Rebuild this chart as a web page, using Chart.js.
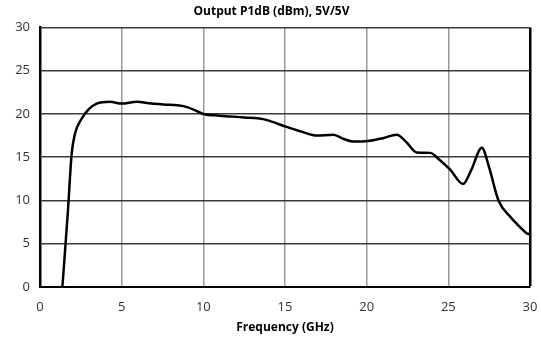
<!DOCTYPE html>
<html>
<head>
<meta charset="utf-8">
<script src="https://cdn.jsdelivr.net/npm/chart.js@4.4.1/dist/chart.umd.min.js"></script>
<style>
  html, body { margin: 0; padding: 0; background: #fff; }
  #wrap { width: 541px; height: 339px; }
</style>
</head>
<body>
<div id="wrap"><canvas id="p1dbChart" width="541" height="339"></canvas></div>
<script>
// frequency (GHz) and output P1dB (dBm)
const freqGHz = [1.37, 1.7, 1.94, 2.14, 2.5, 2.96, 3.47, 4.29, 5.0, 5.92, 6.8, 7.55, 8.78, 9.4, 10.0, 11.0, 12.5, 13.67, 15.1, 16.1, 16.94, 17.96, 18.6, 19.19, 20.2, 21.0, 21.84, 22.4, 23.06, 23.9, 24.4, 25.1, 25.9, 26.4, 27.05, 27.5, 28.07, 28.8, 29.4, 29.8, 30.0];
const p1dbOut = [0, 8.5, 15.4, 17.7, 19.3, 20.5, 21.2, 21.4, 21.2, 21.4, 21.2, 21.1, 20.9, 20.5, 20.0, 19.8, 19.6, 19.4, 18.5, 17.9, 17.5, 17.6, 17.1, 16.8, 16.9, 17.2, 17.6, 16.8, 15.55, 15.5, 14.8, 13.6, 11.9, 13.5, 16.1, 13.8, 10.0, 8.1, 6.9, 6.2, 6.1];
const axisTicks = [0, 5, 10, 15, 20, 25, 30];

const points = freqGHz.map((f, i) => ({ x: f, y: p1dbOut[i] }));
const tickFont = { family: 'Open Sans', size: 13 };
const boldFont = { family: 'Open Sans', size: 12, weight: 'bold' };

new Chart(document.getElementById('p1dbChart'), {
    type: 'scatter',
    data: {
        datasets: [{
            label: 'P1dB',
            data: points,
            showLine: true,
            borderColor: '#000',
            borderWidth: 2.5,
            pointRadius: 0,
            tension: 0.4,
            cubicInterpolationMode: 'monotone'
        }]
    },
    options: {
        responsive: false,
        animation: false,
        layout: { padding: { top: 4, right: 0, bottom: 4, left: 2 } },
        plugins: {
            legend: { display: false },
            tooltip: { enabled: false },
            title: {
                display: true,
                text: 'Output P1dB (dBm), 5V/5V',
                color: '#000',
                font: boldFont,
                padding: { top: 0, bottom: 9 }
            }
        },
        scales: {
            x: {
                type: 'linear',
                min: 0,
                max: 30,
                afterBuildTicks: (scale) => { scale.ticks = axisTicks.map(v => ({ value: v })); },
                afterFit: (scale) => {
                    scale.height = 48;
                    scale.paddingRight = 11;
                    scale.paddingLeft = 8;
                },
                ticks: { color: '#333', font: tickFont, padding: 12 },
                grid: {
                    color: (ctx) => (ctx.tick && (ctx.tick.value === 0 || ctx.tick.value === 30)) ? '#000' : '#999',
                    lineWidth: (ctx) => (ctx.tick && ctx.tick.value === 30) ? 2.5 : 1.5,
                    drawTicks: false
                },
                border: { color: '#000', width: 2 },
                title: { display: true, text: 'Frequency (GHz)', color: '#000', font: boldFont, padding: { top: 2, bottom: 0 } }
            },
            y: {
                min: 0,
                max: 30,
                afterBuildTicks: (scale) => { scale.ticks = axisTicks.map(v => ({ value: v })); },
                afterFit: (scale) => { scale.width = 38; },
                ticks: { color: '#333', font: tickFont, padding: 10 },
                grid: { color: '#3a3a3a', lineWidth: 1.5, drawTicks: false },
                border: { color: '#000', width: 2.5 }
            }
        }
    }
});
</script>
</body>
</html>
